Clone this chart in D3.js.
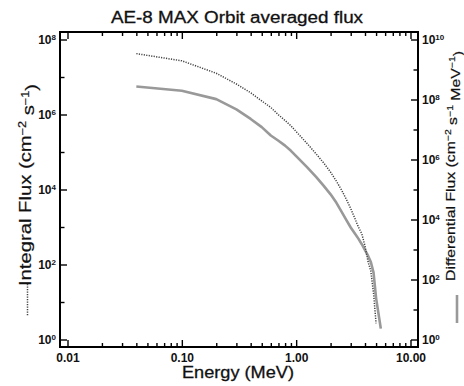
<!DOCTYPE html>
<html>
<head>
<meta charset="utf-8">
<script src="https://cdn.jsdelivr.net/npm/d3@7"></script>
<style>
  body { margin: 0; background: #fff; }
  svg { display: block; font-family: "Liberation Sans", Arial, sans-serif; }
</style>
</head>
<body>
<div id="chart"></div>
<script>
// AE-8 MAX orbit averaged electron flux
const integralEnergy = [0.04, 0.1, 0.2, 0.3, 0.4, 0.5, 0.6, 0.7, 0.8, 0.9, 1.0, 1.25, 1.5, 1.75, 2.0, 2.25, 2.5, 2.75, 3.0, 3.25, 3.5, 3.75, 4.0, 4.25, 4.5, 4.75, 5.0];
const integralFlux = [4.2e7, 2.7e7, 1.26e7, 6.5e6, 3.8e6, 2.3e6, 1.54e6, 9.8e5, 6.9e5, 5.0e5, 3.5e5, 1.67e5, 8.8e4, 5.0e4, 2.9e4, 1.66e4, 9.6e3, 5.4e3, 3.1e3, 1.74e3, 1.0e3, 660, 310, 120, 66, 17, 2.7];

const differentialEnergy = [0.04, 0.1, 0.2, 0.3, 0.4, 0.5, 0.6, 0.7, 0.8, 0.9, 1.0, 1.25, 1.5, 1.75, 2.0, 2.25, 2.5, 2.75, 3.0, 3.25, 3.5, 3.75, 4.0, 4.25, 4.5, 4.75, 5.0, 5.5];
const differentialFlux = [2.7e8, 1.95e8, 1.03e8, 4.7e7, 2.25e7, 1.2e7, 6.3e6, 4.2e6, 2.9e6, 1.95e6, 1.3e6, 5.5e5, 2.6e5, 1.3e5, 6.9e4, 3.6e4, 1.8e4, 9.5e3, 5.4e3, 3.5e3, 2.3e3, 1.5e3, 950, 620, 380, 170, 24, 2.3];

const xMajor = [0.01, 0.1, 1, 10];
const leftMajor = [1, 1e2, 1e4, 1e6, 1e8];
const leftMinor = [10, 1e3, 1e5, 1e7];
const rightMajor = [1, 1e2, 1e4, 1e6, 1e8, 1e10];
const rightMinor = [10, 1e3, 1e5, 1e7, 1e9];

const width = 464, height = 386;
const frame = { left: 60, right: 418, top: 32, bottom: 347 };
const pad = 7.5;

const svg = d3.select('#chart').append('svg')
  .attr('width', width)
  .attr('height', height);

const x = d3.scaleLog().domain([0.01, 10]).range([frame.left + pad, frame.right - pad]);
const yLeft = d3.scaleLog().domain([1, 1e8]).range([frame.bottom - pad, frame.top + pad]);
const yRight = d3.scaleLog().domain([1, 1e10]).range([frame.bottom - pad, frame.top + pad]);

// minor x ticks: 2..9 in every decade
const xMinor = [];
for (let d = 0.01; d < 10; d *= 10) {
  for (let k = 2; k <= 9; k++) xMinor.push(+(d * k).toPrecision(3));
}

function powLabel(sel) {
  sel.each(function (d) {
    const t = d3.select(this);
    const e = Math.round(Math.log10(d));
    t.text(null);
    t.append('tspan').text('10');
    t.append('tspan').attr('dy', '-0.45em').attr('font-size', '8px').text(e);
  });
}

const axisStyle = g => {
  g.select('.domain').remove();
  g.selectAll('.tick line').attr('stroke', '#000').attr('stroke-width', 1.4);
  g.selectAll('.tick text').attr('fill', '#111').attr('font-weight', 'bold').attr('font-size', '12px');
};

// bottom axis
svg.append('g').attr('transform', `translate(0,${frame.bottom})`)
  .call(d3.axisBottom(x).tickValues(xMajor).tickSize(-7).tickPadding(6).tickFormat(d3.format('.2f')))
  .call(axisStyle);
svg.append('g').attr('transform', `translate(0,${frame.bottom})`)
  .call(d3.axisBottom(x).tickValues(xMinor).tickSize(-4).tickFormat(''))
  .call(axisStyle);
// top axis
svg.append('g').attr('transform', `translate(0,${frame.top})`)
  .call(d3.axisTop(x).tickValues(xMajor).tickSize(-7).tickFormat(''))
  .call(axisStyle);
svg.append('g').attr('transform', `translate(0,${frame.top})`)
  .call(d3.axisTop(x).tickValues(xMinor).tickSize(-4).tickFormat(''))
  .call(axisStyle);

// left axis
svg.append('g').attr('transform', `translate(${frame.left},0)`)
  .call(d3.axisLeft(yLeft).tickValues(leftMajor).tickSize(-7).tickPadding(4))
  .call(axisStyle)
  .call(g => g.selectAll('.tick text').call(powLabel));
svg.append('g').attr('transform', `translate(${frame.left},0)`)
  .call(d3.axisLeft(yLeft).tickValues(leftMinor).tickSize(-4.5).tickFormat(''))
  .call(axisStyle);

// right axis
svg.append('g').attr('transform', `translate(${frame.right},0)`)
  .call(d3.axisRight(yRight).tickValues(rightMajor).tickSize(-7).tickPadding(4))
  .call(axisStyle)
  .call(g => g.selectAll('.tick text').call(powLabel));
svg.append('g').attr('transform', `translate(${frame.right},0)`)
  .call(d3.axisRight(yRight).tickValues(rightMinor).tickSize(-4.5).tickFormat(''))
  .call(axisStyle);

// frame
svg.append('rect')
  .attr('x', frame.left).attr('y', frame.top)
  .attr('width', frame.right - frame.left).attr('height', frame.bottom - frame.top)
  .attr('fill', 'none').attr('stroke', '#000').attr('stroke-width', 2);

// curves
const integralLine = d3.line().x((d, i) => x(integralEnergy[i])).y(d => yLeft(d));
const differentialLine = d3.line().x((d, i) => x(differentialEnergy[i])).y(d => yRight(d));

svg.append('path')
  .attr('d', differentialLine(differentialFlux))
  .attr('fill', 'none').attr('stroke', '#999').attr('stroke-width', 2.6)
  .attr('stroke-linejoin', 'round');

svg.append('path')
  .attr('d', integralLine(integralFlux))
  .attr('fill', 'none').attr('stroke', '#444').attr('stroke-width', 1.5)
  .attr('stroke-dasharray', '1.2,1.3');

// title
svg.append('text')
  .attr('x', 237).attr('y', 23)
  .attr('text-anchor', 'middle')
  .attr('font-size', '16px').attr('fill', '#111')
  .attr('stroke', '#111').attr('stroke-width', 0.3)
  .attr('textLength', 252).attr('lengthAdjust', 'spacingAndGlyphs')
  .text('AE-8 MAX Orbit averaged flux');

// x label
svg.append('text')
  .attr('x', 238).attr('y', 378)
  .attr('text-anchor', 'middle')
  .attr('font-size', '17px').attr('fill', '#111')
  .attr('stroke', '#111').attr('stroke-width', 0.3)
  .attr('textLength', 112).attr('lengthAdjust', 'spacingAndGlyphs')
  .text('Energy (MeV)');

// left y label with dotted legend sample
const leftLab = svg.append('text')
  .attr('transform', 'translate(31,185) rotate(-90)')
  .attr('text-anchor', 'middle')
  .attr('font-size', '16px').attr('fill', '#111')
  .attr('stroke', '#111').attr('stroke-width', 0.2)
  .attr('textLength', 202).attr('lengthAdjust', 'spacingAndGlyphs');
leftLab.append('tspan').text('Integral Flux (cm');
leftLab.append('tspan').attr('dy', '-0.5em').attr('font-size', '10px').text('\u22122');
leftLab.append('tspan').attr('dy', '0.5em').text(' s');
leftLab.append('tspan').attr('dy', '-0.5em').attr('font-size', '10px').text('\u22121');
leftLab.append('tspan').attr('dy', '0.5em').text(')');

svg.append('line')
  .attr('x1', 27.5).attr('x2', 27.5).attr('y1', 284).attr('y2', 316)
  .attr('stroke', '#444').attr('stroke-width', 1.5).attr('stroke-dasharray', '1.2,1.3');

// right y label with solid legend sample
const rightLab = svg.append('text')
  .attr('transform', 'translate(455,166) rotate(-90)')
  .attr('text-anchor', 'middle')
  .attr('font-size', '13.5px').attr('fill', '#111')
  .attr('stroke', '#111').attr('stroke-width', 0.2)
  .attr('textLength', 230).attr('lengthAdjust', 'spacingAndGlyphs');
rightLab.append('tspan').text('Differential Flux (cm');
rightLab.append('tspan').attr('dy', '-0.5em').attr('font-size', '9px').text('\u22122');
rightLab.append('tspan').attr('dy', '0.5em').text(' s');
rightLab.append('tspan').attr('dy', '-0.5em').attr('font-size', '9px').text('\u22121');
rightLab.append('tspan').attr('dy', '0.5em').text(' MeV');
rightLab.append('tspan').attr('dy', '-0.5em').attr('font-size', '9px').text('\u22121');
rightLab.append('tspan').attr('dy', '0.5em').text(')');

svg.append('line')
  .attr('x1', 457).attr('x2', 457).attr('y1', 295).attr('y2', 323)
  .attr('stroke', '#999').attr('stroke-width', 2.6);
</script>
</body>
</html>
